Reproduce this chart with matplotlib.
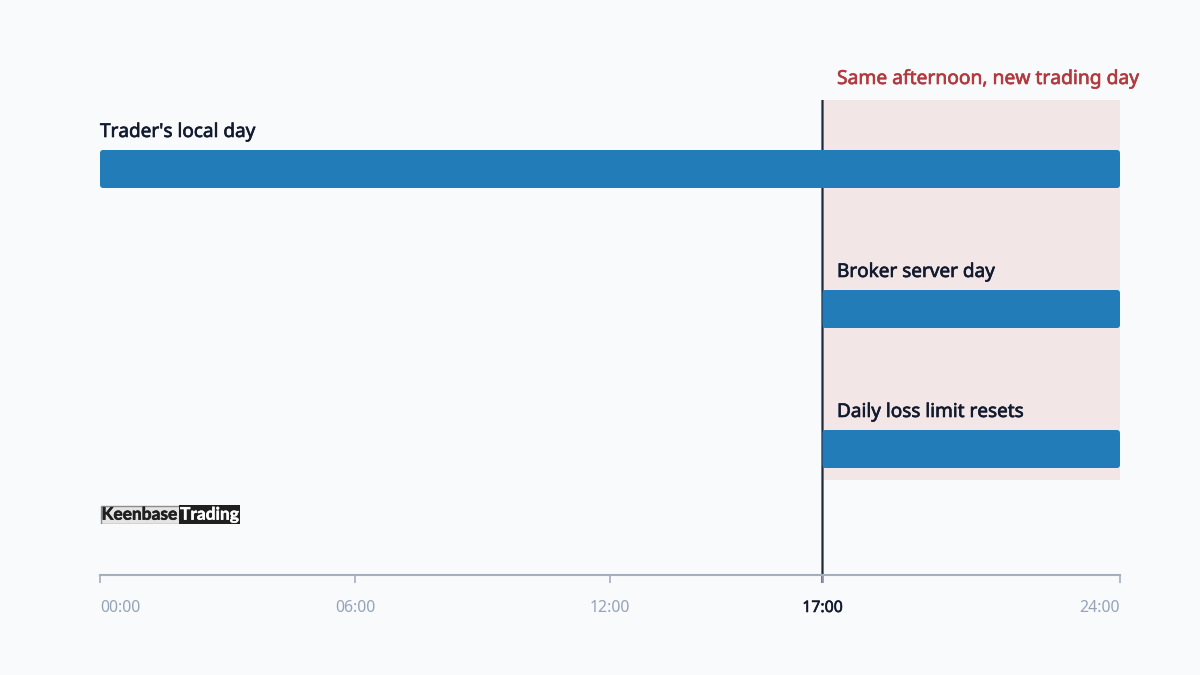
import matplotlib
matplotlib.use("Agg")
import matplotlib.pyplot as plt
import matplotlib.patheffects as pe
from matplotlib.patches import FancyBboxPatch, Rectangle

# rows of the chart, hours of the day
row_labels = ["Trader's local day", "Broker server day", "Daily loss limit resets"]
row_starts = [0, 17, 17]
row_ends = [24, 24, 24]
tick_hours = [0, 6, 12, 17, 24]
tick_labels = ["00:00", "06:00", "12:00", "17:00", "24:00"]
reset_hour = 17
day_end = 24
band_label = "Same afternoon, new trading day"

BG = "#f8fafc"
BAR = "#217cb8"
BAND = "#f3e6e7"
DARK = "#1e293b"
AXIS = "#a3afbf"
GREY = "#94a3b8"
RED = "#b23a3e"
INK = "#111a2e"

plt.rcParams["font.family"] = ["Noto Sans", "DejaVu Sans"]

W, H = 1200, 675
fig = plt.figure(figsize=(W / 100, H / 100), dpi=100, facecolor=BG)


def px_axes(left, top, right, bottom):
    return fig.add_axes([left / W, 1 - bottom / H, (right - left) / W, (bottom - top) / H])


def thicken(text, color, width=0.45):
    # Noto Sans has no semibold here, a thin stroke gets close to it
    text.set_path_effects([pe.withStroke(linewidth=width, foreground=color)])


# axes runs 100..1120 px wide, 100..575 px tall
ax = px_axes(100, 100, 1120, 575)
ax.set_facecolor("none")
ROW_PX = 140
ax.set_xlim(0, day_end)
ax.set_ylim((575 - 169) / ROW_PX, (100 - 169) / ROW_PX)

for side in ["top", "left", "right"]:
    ax.spines[side].set_visible(False)
ax.spines["bottom"].set_color(AXIS)
ax.spines["bottom"].set_linewidth(1.5)
ax.set_yticks([])
ax.set_xticks(tick_hours)
ax.set_xticklabels(tick_labels, fontsize=11.4, color=GREY)
ax.tick_params(axis="x", length=6, width=1.2, color=AXIS, pad=12)

# shift the end labels so they sit inside the axis
for lab, hour in zip(ax.get_xticklabels(), tick_hours):
    if hour == 0:
        lab.set_ha("left")
    elif hour == day_end:
        lab.set_ha("right")
    elif hour == reset_hour:
        lab.set_color(INK)
        thicken(lab, INK, 0.4)

px_x = day_end / 1020
px_y = 1 / ROW_PX

# shaded band after the reset
ax.add_patch(Rectangle((reset_hour, (100 - 169) * px_y), day_end - reset_hour, (480 - 100) * px_y,
                       facecolor=BAND, edgecolor="none", zorder=1))
band_text = ax.text(reset_hour + 14.5 * px_x, (79 - 169) * px_y, band_label, color=RED, fontsize=13.85,
                    va="center", ha="left", clip_on=False)
thicken(band_text, RED)

ax.plot([reset_hour, reset_hour], [(100 - 169) * px_y, (583 - 169) * px_y], color=DARK,
        linewidth=1.6, zorder=1.5, clip_on=False, solid_capstyle="butt", snap=False)

bar_h = 38 * px_y
r = 3 * px_x
for i, (label, start, end) in enumerate(zip(row_labels, row_starts, row_ends)):
    ax.add_patch(FancyBboxPatch((start + r, i - bar_h / 2 + r * (px_y / px_x)),
                                end - start - 2 * r, bar_h - 2 * r * (px_y / px_x),
                                boxstyle=f"round,pad={r},rounding_size={r}",
                                mutation_aspect=px_y / px_x,
                                facecolor=BAR, edgecolor="none", zorder=2))
    label_x = start + (14.5 * px_x if start > 0 else 0)
    row_text = ax.text(label_x, i - 37 * px_y, label, color=INK, fontsize=13.65,
                       va="center", ha="left", zorder=4)
    thicken(row_text, INK)

# logo
logo = px_axes(100, 505, 240, 524)
logo.set_xlim(100, 240)
logo.set_ylim(524, 505)
logo.axis("off")
logo.add_patch(Rectangle((100.5, 505.5), 79, 18, facecolor="#e4e4e4", edgecolor="#8c8c8c", linewidth=1))
logo.add_patch(Rectangle((179, 505), 61, 19, facecolor="#1f1f1f", edgecolor="none"))
keen = logo.text(101.5, 514.7, "Keenbase", family="Lato", fontweight="bold", fontsize=12.5, color="#1f1f1f",
                 va="center", ha="left")
trad = logo.text(180, 514.7, "Trading", family="Lato", fontweight="bold", fontsize=12.5, color="#ffffff",
                 va="center", ha="left")
thicken(keen, "#1f1f1f", 0.4)
thicken(trad, "#ffffff", 0.3)

fig.savefig("out.png", dpi=100, facecolor=BG)
